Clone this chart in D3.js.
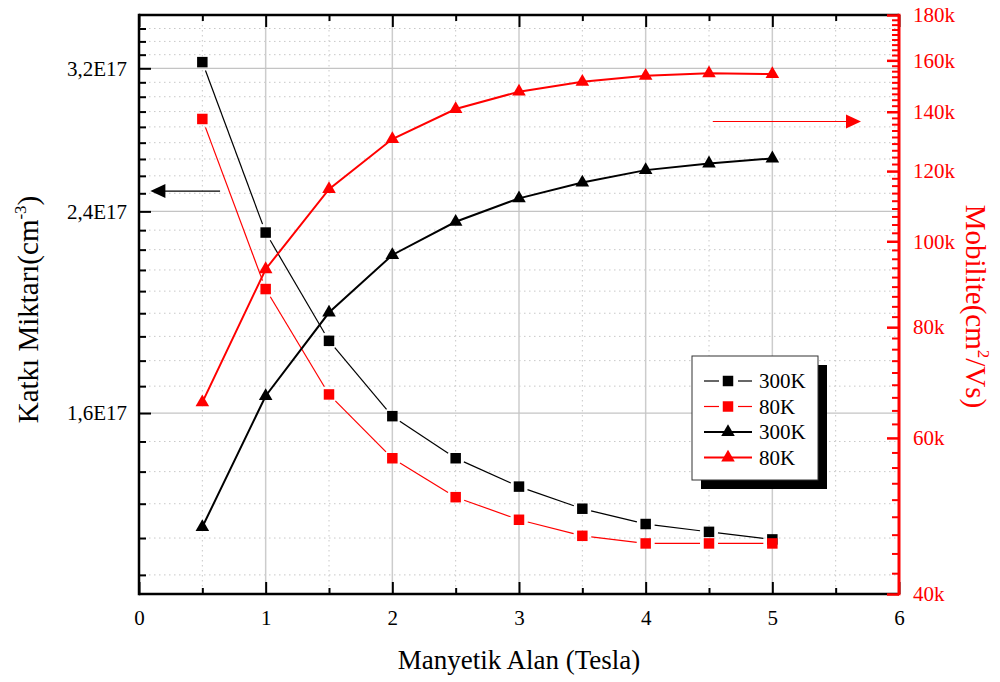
<!DOCTYPE html>
<html>
<head>
<meta charset="utf-8">
<script src="https://cdn.jsdelivr.net/npm/d3@7"></script>
<style>
    body { margin: 0; background: #fff; }
    text { font-family: "Liberation Serif", "Times New Roman", serif; }
</style>
</head>
<body>
<svg id="chart" width="1000" height="682"></svg>
<script>
// values
const field_values = [0.5, 1, 1.5, 2, 2.5, 3, 3.5, 4, 4.5, 5];
const carrier_300K = [3.24e17, 2.30e17, 1.85e17, 1.59e17, 1.461e17, 1.38e17, 1.32e17, 1.28e17, 1.26e17, 1.241e17];
const carrier_80K = [2.89e17, 2.053e17, 1.661e17, 1.461e17, 1.351e17, 1.291e17, 1.25e17, 1.231e17, 1.231e17, 1.231e17];
const mobility_300K = [47600, 66900, 83100, 96500, 105200, 111800, 116500, 120300, 122400, 124000];
const mobility_80K = [65800, 93000, 114500, 130400, 141000, 147500, 151300, 153700, 154700, 154400];

const x_ticks = [0, 1, 2, 3, 4, 5, 6];
const x_minor_ticks = [0.5, 1.5, 2.5, 3.5, 4.5, 5.5];
const left_ticks = [1.6e17, 2.4e17, 3.2e17];
const left_tick_labels = ['1,6E17', '2,4E17', '3,2E17'];
const right_ticks = [40000, 60000, 80000, 100000, 120000, 140000, 160000, 180000];
const right_tick_labels = ['40k', '60k', '80k', '100k', '120k', '140k', '160k', '180k'];
const legend_labels = ['300K', '80K', '300K', '80K'];

// arrows: [field start, field end (tip), axis value]
const left_arrow = [0.64, 0.09, 2.5e17];
const right_arrow = [4.53, 5.70, 136500];

const color_red = '#ff0000';
const color_black = '#000000';
const serif = '"Liberation Serif", "Times New Roman", serif';

let margin = {top: 15, right: 101, bottom: 88, left: 139},
    width = 1000 - margin.left - margin.right,
    height = 682 - margin.top - margin.bottom;

let svg = d3.select('#chart');

let x = d3.scaleLinear().domain([0, 6]).range([margin.left, margin.left + width]);
let y_left = d3.scaleLog().domain([1.112e17, 3.562e17]).range([margin.top + height, margin.top]);
let y_right = d3.scaleLog().domain([40000, 180000]).range([margin.top + height, margin.top]);

let x0 = margin.left, x1 = margin.left + width, y0 = margin.top + height, y1 = margin.top;

// minor ticks: 8 evenly spaced values between majors (same as origin)
function minor_ticks(major, domain) {
    let step = (major[1] - major[0]) / 9;
    let out = [];
    for (let v = major[0] - step; v > domain[0]; v -= step) out.push(v);
    for (let v = major[0] + step; v < domain[1]; v += step) {
        if (major.every(m => Math.abs(m - v) > step / 2)) out.push(v);
    }
    return out;
}

let left_minor = minor_ticks(left_ticks, y_left.domain()).filter(v => y_left(v) > y1 + 3);
let right_minor = minor_ticks(right_ticks, y_right.domain());

//////////////////// grid ////////////////////
let grid = svg.append('g');

grid.selectAll('.vminor').data(x_minor_ticks).enter().append('line')
    .attr('x1', d => x(d)).attr('x2', d => x(d)).attr('y1', y1).attr('y2', y0)
    .attr('stroke', '#c8c8c8').attr('stroke-width', 1).attr('stroke-dasharray', '1.5,3.5');
grid.selectAll('.hminor').data(left_minor).enter().append('line')
    .attr('x1', x0).attr('x2', x1).attr('y1', d => y_left(d)).attr('y2', d => y_left(d))
    .attr('stroke', '#c8c8c8').attr('stroke-width', 1).attr('stroke-dasharray', '1.5,3.5');
grid.selectAll('.vmajor').data(x_ticks.slice(1, -1)).enter().append('line')
    .attr('x1', d => x(d)).attr('x2', d => x(d)).attr('y1', y1).attr('y2', y0)
    .attr('stroke', '#cccccc').attr('stroke-width', 1.5);
grid.selectAll('.hmajor').data(left_ticks).enter().append('line')
    .attr('x1', x0).attr('x2', x1).attr('y1', d => y_left(d)).attr('y2', d => y_left(d))
    .attr('stroke', '#c4c4c4').attr('stroke-width', 1.2);

//////////////////// series ////////////////////
function gap_segments(points, gap) {
    let segs = [];
    for (let i = 0; i < points.length - 1; i++) {
        let a = points[i], b = points[i + 1];
        let dx = b[0] - a[0], dy = b[1] - a[1], len = Math.sqrt(dx * dx + dy * dy);
        if (len <= 2 * gap) continue;
        let ux = dx / len, uy = dy / len;
        segs.push([a[0] + ux * gap, a[1] + uy * gap, b[0] - ux * gap, b[1] - uy * gap]);
    }
    return segs;
}

function draw_square_series(values, color) {
    let pts = field_values.map((f, i) => [x(f), y_left(values[i])]);
    let g = svg.append('g');
    g.selectAll('line').data(gap_segments(pts, 9)).enter().append('line')
        .attr('x1', d => d[0]).attr('y1', d => d[1]).attr('x2', d => d[2]).attr('y2', d => d[3])
        .attr('stroke', color).attr('stroke-width', 1.2);
    g.selectAll('path').data(pts).enter().append('path')
        .attr('d', d3.symbol(d3.symbolSquare, 110)())
        .attr('transform', d => 'translate(' + d[0] + ',' + d[1] + ')')
        .attr('fill', color);
}

function draw_triangle_series(values, color) {
    let pts = field_values.map((f, i) => [x(f), y_right(values[i])]);
    let g = svg.append('g');
    g.append('path').datum(pts)
        .attr('d', d3.line())
        .attr('fill', 'none').attr('stroke', color).attr('stroke-width', 2);
    g.selectAll('.marker').data(pts).enter().append('path')
        .attr('d', d3.symbol(d3.symbolTriangle, 80)())
        .attr('transform', d => 'translate(' + d[0] + ',' + d[1] + ')')
        .attr('fill', color);
}

draw_square_series(carrier_300K, color_black);
draw_square_series(carrier_80K, color_red);
draw_triangle_series(mobility_300K, color_black);
draw_triangle_series(mobility_80K, color_red);

//////////////////// axes ////////////////////
function style_axis(g, color, width_major, font_size) {
    g.attr('font-family', serif);
    g.select('.domain').remove();
    g.selectAll('.tick line').attr('stroke', color).attr('stroke-width', width_major);
    g.selectAll('.tick text').attr('fill', color)
        .style('font-family', serif)
        .style('font-size', font_size + 'px');
}

// frame
svg.append('line').attr('x1', x0).attr('x2', x1).attr('y1', y0).attr('y2', y0).attr('stroke', color_black).attr('stroke-width', 2.5);
svg.append('line').attr('x1', x0).attr('x2', x1).attr('y1', y1).attr('y2', y1).attr('stroke', color_black).attr('stroke-width', 2.5);
svg.append('line').attr('x1', x0).attr('x2', x0).attr('y1', y1 - 1.25).attr('y2', y0 + 1.25).attr('stroke', color_black).attr('stroke-width', 2.5);

svg.append('g').attr('transform', 'translate(0,' + y0 + ')')
    .call(d3.axisBottom(x).tickValues(x_ticks).tickSize(-12).tickSizeOuter(0).tickPadding(16).tickFormat(d3.format('d')))
    .call(g => style_axis(g, color_black, 2, 21));
svg.append('g').attr('transform', 'translate(0,' + y0 + ')')
    .call(d3.axisBottom(x).tickValues(x_minor_ticks).tickSize(-6).tickSizeOuter(0).tickFormat(''))
    .call(g => style_axis(g, color_black, 2, 21));
svg.append('g').attr('transform', 'translate(0,' + y1 + ')')
    .call(d3.axisTop(x).tickValues(x_ticks).tickSize(-12).tickSizeOuter(0).tickFormat(''))
    .call(g => style_axis(g, color_black, 2, 21));
svg.append('g').attr('transform', 'translate(0,' + y1 + ')')
    .call(d3.axisTop(x).tickValues(x_minor_ticks).tickSize(-6).tickSizeOuter(0).tickFormat(''))
    .call(g => style_axis(g, color_black, 2, 21));

svg.append('g').attr('transform', 'translate(' + x0 + ',0)')
    .call(d3.axisLeft(y_left).tickValues(left_ticks).tickSize(-12).tickSizeOuter(0).tickPadding(12)
        .tickFormat((d, i) => left_tick_labels[i]))
    .call(g => style_axis(g, color_black, 2, 21));
svg.append('g').attr('transform', 'translate(' + x0 + ',0)')
    .call(d3.axisLeft(y_left).tickValues(left_minor).tickSize(-7).tickSizeOuter(0).tickFormat(''))
    .call(g => style_axis(g, color_black, 2, 21));

// right axis in red
svg.append('line').attr('x1', x1).attr('x2', x1).attr('y1', y1 - 1.25).attr('y2', y0 + 1.25).attr('stroke', color_red).attr('stroke-width', 3);
svg.append('g').attr('transform', 'translate(' + x1 + ',0)')
    .call(d3.axisRight(y_right).tickValues(right_ticks).tickSize(-12).tickSizeOuter(0).tickPadding(14)
        .tickFormat((d, i) => right_tick_labels[i]))
    .call(g => style_axis(g, color_red, 2.5, 21));
svg.append('g').attr('transform', 'translate(' + x1 + ',0)')
    .call(d3.axisRight(y_right).tickValues(right_minor).tickSize(-7).tickSizeOuter(0).tickFormat(''))
    .call(g => style_axis(g, color_red, 2, 21));

//////////////////// titles ////////////////////
svg.append('text')
    .attr('x', (x0 + x1) / 2).attr('y', 669)
    .attr('text-anchor', 'middle').style('font-size', '27px')
    .text('Manyetik Alan (Tesla)');

let left_title = svg.append('text')
    .attr('transform', 'translate(38,' + ((y0 + y1) / 2 + 5) + ') rotate(-90)')
    .attr('text-anchor', 'middle').style('font-size', '29px');
left_title.append('tspan').text('Katkı Miktarı(cm');
left_title.append('tspan').attr('dy', -12).style('font-size', '17px').text('-3');
left_title.append('tspan').attr('dy', 12).text(')');

let right_title = svg.append('text')
    .attr('transform', 'translate(966,' + ((y0 + y1) / 2 + 2) + ') rotate(90)')
    .attr('text-anchor', 'middle').attr('fill', color_red).style('font-size', '29px');
right_title.append('tspan').text('Mobilite(cm');
right_title.append('tspan').attr('dy', -12).style('font-size', '17px').text('2');
right_title.append('tspan').attr('dy', 12).text('/Vs)');

//////////////////// arrows ////////////////////
function draw_arrow(spec, y_scale, color) {
    let xs = x(spec[0]), xe = x(spec[1]), yy = y_scale(spec[2]);
    let dir = xe < xs ? -1 : 1;
    svg.append('line')
        .attr('x1', xs).attr('x2', xe - dir * 14).attr('y1', yy).attr('y2', yy)
        .attr('stroke', color).attr('stroke-width', 1.2);
    svg.append('path')
        .attr('d', 'M' + xe + ',' + yy + 'L' + (xe - dir * 15) + ',' + (yy - 7) + 'L' + (xe - dir * 15) + ',' + (yy + 7) + 'Z')
        .attr('fill', color);
}
draw_arrow(left_arrow, y_left, color_black);
draw_arrow(right_arrow, y_right, color_red);

//////////////////// legend ////////////////////
let legend = svg.append('g').attr('transform', 'translate(692,356)');
legend.append('rect').attr('x', 9).attr('y', 9).attr('width', 126).attr('height', 124).attr('fill', color_black);
legend.append('rect').attr('x', 0).attr('y', 0).attr('width', 126).attr('height', 124)
    .attr('fill', '#fff').attr('stroke', '#333').attr('stroke-width', 1);

let legend_styles = [
    {color: color_black, symbol: d3.symbolSquare, thin: true},
    {color: color_red, symbol: d3.symbolSquare, thin: true},
    {color: color_black, symbol: d3.symbolTriangle, thin: false},
    {color: color_red, symbol: d3.symbolTriangle, thin: false}
];

legend_labels.forEach(function (label, i) {
    let st = legend_styles[i];
    let row = legend.append('g').attr('transform', 'translate(0,' + (25 + i * 25.5) + ')');
    if (st.thin) {
        row.append('line').attr('x1', 12).attr('x2', 27).attr('y1', 0).attr('y2', 0).attr('stroke', st.color).attr('stroke-width', 1.2);
        row.append('line').attr('x1', 46).attr('x2', 60).attr('y1', 0).attr('y2', 0).attr('stroke', st.color).attr('stroke-width', 1.2);
    } else {
        row.append('line').attr('x1', 12).attr('x2', 60).attr('y1', 0).attr('y2', 0).attr('stroke', st.color).attr('stroke-width', 2);
    }
    row.append('path').attr('d', d3.symbol(st.symbol, st.thin ? 110 : 80)())
        .attr('transform', 'translate(36,0)').attr('fill', st.color);
    row.append('text').attr('x', 67).attr('y', 7).style('font-size', '21px').text(label);
});
</script>
</body>
</html>
